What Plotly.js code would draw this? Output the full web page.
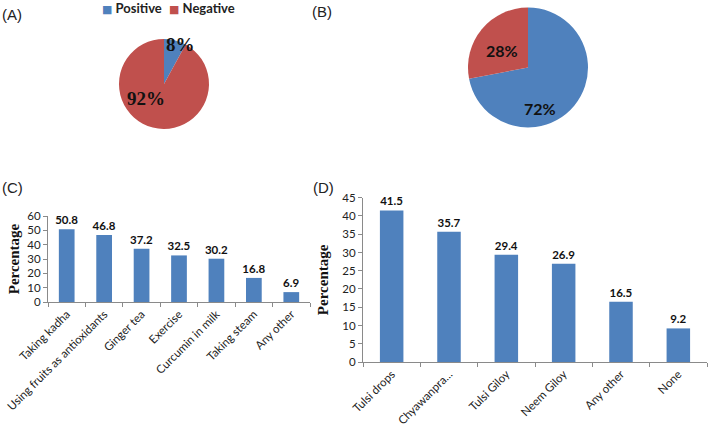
<!DOCTYPE html>
<html><head><meta charset="utf-8">
<script src="https://cdn.plot.ly/plotly-3.0.1.min.js"></script>
<style>body{margin:0;padding:0;background:#fff}#chart{width:709px;height:426px}</style>
</head><body><div id="chart"></div>
<script>
var pieLabels = ['Positive', 'Negative'];
var pieColors = ['#4F81BD', '#C0504D'];
var pieAValues = [8, 92];
var pieBValues = [72, 28];
var cCategories = ['Taking kadha', 'Using fruits as antioxidants', 'Ginger tea', 'Exercise', 'Curcumin in milk', 'Taking steam', 'Any other'];
var cValues = [50.8, 46.8, 37.2, 32.5, 30.2, 16.8, 6.9];
var dCategories = ['Tulsi drops', 'Chyawanpra...', 'Tulsi Giloy', 'Neem Giloy', 'Any other', 'None'];
var dValues = [41.5, 35.7, 29.4, 26.9, 16.5, 9.2];
var cTicks = [0, 10, 20, 30, 40, 50, 60];
var dTicks = [0, 5, 10, 15, 20, 25, 30, 35, 40, 45];

var W = 709, H = 426;
function fx(p){return p/W;}
function fy(p){return 1 - p/H;}
var BLUE = pieColors[0];
var tickFont = {family: 'Lato, "Open Sans", sans-serif', size: 11.5, color: '#222'};
var valFont = {family: 'Lato, "Open Sans", sans-serif', size: 11.5, color: '#111', weight: 'bold'};
var serifBold = '"Liberation Serif", "Times New Roman", serif';
var letterFont = {family: '"Liberation Sans", Arial, sans-serif', size: 15, color: '#222'};
var legendFont = {family: 'Lato, "DejaVu Sans", sans-serif', size: 13, color: '#222', weight: 'bold'};

var traces = [
  {type: 'pie', labels: pieLabels, values: pieAValues, sort: false, direction: 'clockwise', rotation: 0,
   marker: {colors: pieColors}, textinfo: 'none', hoverinfo: 'none',
   domain: {x: [fx(119), fx(209)], y: [fy(129), fy(39)]}, showlegend: false},
  {type: 'pie', labels: pieLabels, values: pieBValues, sort: false, direction: 'clockwise', rotation: 0,
   marker: {colors: pieColors}, textinfo: 'none', hoverinfo: 'none',
   domain: {x: [fx(468), fx(588)], y: [fy(128), fy(7)]}, showlegend: false},
  {type: 'bar', x: cCategories, y: cValues, xaxis: 'x', yaxis: 'y', marker: {color: BLUE},
   text: cValues.map(function(v){return v.toFixed(1);}), textposition: 'outside', textfont: valFont,
   constraintext: 'none', cliponaxis: false, showlegend: false, width: 0.42},
  {type: 'bar', x: dCategories, y: dValues, xaxis: 'x2', yaxis: 'y2', marker: {color: BLUE},
   text: dValues.map(function(v){return v.toFixed(1);}), textposition: 'outside', textfont: valFont,
   constraintext: 'none', cliponaxis: false, showlegend: false, width: 0.41}
];

var axisCommon = {showline: true, linecolor: '#8a8a8a', linewidth: 1, ticks: 'outside', ticklen: 4,
  tickcolor: '#8a8a8a', showgrid: false, zeroline: false, tickfont: tickFont, fixedrange: true, automargin: false};

function center(text, x, y, font) {
  return {text: text, x: fx(x), y: fy(y), xref: 'paper', yref: 'paper', xanchor: 'center', yanchor: 'middle', showarrow: false, font: font};
}
function leftTxt(text, x, y, font) {
  return {text: text, x: fx(x), y: fy(y), xref: 'paper', yref: 'paper', xanchor: 'left', yanchor: 'middle', showarrow: false, font: font};
}
function legendItem(i, x) {
  return leftTxt('<span style="font-size:11px;color:' + pieColors[i] + '">\u25A0</span> ' + pieLabels[i], x, 8, legendFont);
}

var layout = {
  width: W, height: H, margin: {l: 0, r: 0, t: 0, b: 0}, paper_bgcolor: '#fff', plot_bgcolor: '#fff',
  font: {family: 'Lato, sans-serif'}, showlegend: false,
  xaxis: Object.assign({}, axisCommon, {domain: [fx(48), fx(310)], tickangle: -45, tickson: 'boundaries', anchor: 'y'}),
  yaxis: Object.assign({}, axisCommon, {domain: [fy(302), fy(216)], range: [0, 60], tickvals: cTicks, anchor: 'x',
    title: {text: 'Percentage', font: {family: serifBold, size: 15, color: '#111', weight: 'bold'}, standoff: 4}}),
  xaxis2: Object.assign({}, axisCommon, {domain: [fx(363), fx(707)], tickangle: -45, tickson: 'boundaries', anchor: 'y2'}),
  yaxis2: Object.assign({}, axisCommon, {domain: [fy(362), fy(197.7)], range: [0, 45], tickvals: dTicks, anchor: 'x2',
    title: {text: 'Percentage', font: {family: serifBold, size: 15, color: '#111', weight: 'bold'}, standoff: 10}}),
  annotations: [
    legendItem(0, 100),
    legendItem(1, 167),
    leftTxt('(A)', 0, 15, letterFont),
    leftTxt('(B)', 310, 12, letterFont),
    leftTxt('(C)', 0, 188, letterFont),
    leftTxt('(D)', 311, 188, letterFont),
    center(pieAValues[0] + '%', 180, 45, {family: serifBold, size: 19, color: '#111', weight: 'bold'}),
    center(pieAValues[1] + '%', 146, 98, {family: serifBold, size: 19, color: '#111', weight: 'bold'}),
    center(pieBValues[1] + '%', 502, 51, {family: 'Lato, "Open Sans", sans-serif', size: 16, color: '#111', weight: 'bold'}),
    center(pieBValues[0] + '%', 540, 108, {family: 'Lato, "Open Sans", sans-serif', size: 16, color: '#111', weight: 'bold'})
  ]
};
Plotly.newPlot('chart', traces, layout, {displayModeBar: false, staticPlot: true});
</script></body></html>
